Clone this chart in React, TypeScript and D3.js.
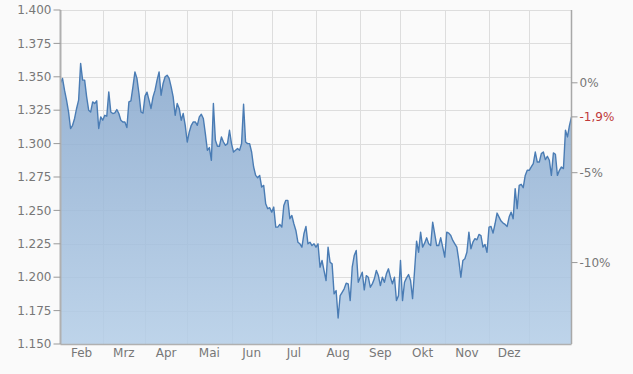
import React from 'react';
import * as d3 from 'd3';

// daily closing prices, one per trading day (Feb .. end of Jan)
const prices: number[] = [
  1.3455, 1.3488, 1.3400, 1.3325, 1.3237, 1.3113, 1.3137, 1.3188, 1.3263, 1.3325,
  1.3600, 1.3475, 1.3475, 1.3350, 1.3250, 1.3237, 1.3312, 1.3300, 1.3320, 1.3113,
  1.3200, 1.3175, 1.3212, 1.3205, 1.3387, 1.3237, 1.3225, 1.3230, 1.3255, 1.3225,
  1.3175, 1.3162, 1.3162, 1.3120, 1.3312, 1.3320, 1.3425, 1.3537, 1.3488, 1.3375,
  1.3237, 1.3228,
  1.3355, 1.3385, 1.3325, 1.3263, 1.3350, 1.3400, 1.3475, 1.3537, 1.3362, 1.3450,
  1.3500, 1.3512, 1.3488, 1.3425, 1.3350, 1.3212, 1.3300, 1.3263, 1.3175, 1.3225,
  1.3137, 1.3012, 1.3087, 1.3137, 1.3162, 1.3162, 1.3137, 1.3200, 1.3220, 1.3188,
  1.3075, 1.2950, 1.2970, 1.2875, 1.3300, 1.3025, 1.2980, 1.2980, 1.3050, 1.3012,
  1.2987, 1.3000, 1.3100, 1.3000,
  1.2937, 1.2950, 1.2963, 1.2950, 1.3000, 1.3295, 1.3012, 1.3000, 1.3000, 1.2937,
  1.2825, 1.2762, 1.2745, 1.2762, 1.2675, 1.2687, 1.2550, 1.2513, 1.2520, 1.2487,
  1.2525, 1.2375, 1.2375, 1.2395, 1.2375, 1.2537, 1.2575, 1.2575, 1.2438, 1.2462,
  1.2400, 1.2350, 1.2262, 1.2250, 1.2225, 1.2325, 1.2380, 1.2250, 1.2262, 1.2237,
  1.2250, 1.2225, 1.2250,
  1.2075, 1.2125, 1.2050, 1.1975, 1.2225, 1.2112, 1.2100, 1.1875, 1.1900, 1.1695,
  1.1862, 1.1887, 1.1913, 1.1955, 1.1950, 1.1825, 1.2075, 1.2162, 1.2200, 1.1962,
  1.2000, 1.2037, 1.1905, 1.2012, 1.2000, 1.1925, 1.1950, 1.1988, 1.2050, 1.2012,
  1.1937, 1.2000, 1.1962, 1.2025, 1.2063, 1.2000, 1.1950, 1.2000, 1.1825, 1.1862,
  1.2125, 1.1825, 1.1962, 1.1995, 1.2020, 1.1975, 1.1840, 1.2050, 1.2270, 1.2187,
  1.2337, 1.2225, 1.2255, 1.2295, 1.2250, 1.2237, 1.2412, 1.2325, 1.2237, 1.2237,
  1.2295, 1.2225, 1.2150, 1.2337, 1.2330, 1.2312, 1.2275, 1.2250, 1.2225, 1.2125,
  1.2000, 1.2125, 1.2138, 1.2187, 1.2337, 1.2213, 1.2262, 1.2288, 1.2280, 1.2320,
  1.2312, 1.2225, 1.2245,
  1.2187, 1.2375, 1.2380, 1.2330, 1.2400, 1.2480, 1.2450, 1.2420, 1.2405, 1.2395,
  1.2380, 1.2450, 1.2487, 1.2438, 1.2663, 1.2513, 1.2687, 1.2695, 1.2670, 1.2762,
  1.2800, 1.2800, 1.2825, 1.2850, 1.2937, 1.2862, 1.2862, 1.2925, 1.2937, 1.2880,
  1.2905, 1.2875, 1.2762, 1.2930, 1.2920, 1.2762, 1.2800, 1.2825, 1.2813, 1.3100,
  1.3050, 1.3137, 1.3200,
];

// index of the first trading day of each month
const monthStarts = [0, 21, 42, 63, 85, 105, 127, 149, 169, 191, 213, 233];
const monthLabels = ['Feb', 'Mrz', 'Apr', 'Mai', 'Jun', 'Jul', 'Aug', 'Sep', 'Okt', 'Nov', 'Dez'];

const priceTicks = [1.15, 1.175, 1.2, 1.225, 1.25, 1.275, 1.3, 1.325, 1.35, 1.375, 1.4];
const pctTicks = [0, -5, -10];

const W = 633;
const H = 374;
const margin = { top: 10, right: 61.5, bottom: 30, left: 60.5 };

const App = () => {
  const x = d3.scaleLinear()
    .domain([0, prices.length - 1])
    .range([margin.left, W - margin.right]);
  const y = d3.scaleLinear()
    .domain([1.15, 1.4])
    .range([H - margin.bottom, margin.top]);

  const base = prices[0];
  const last = prices[prices.length - 1];
  const lastPct = (last / base - 1) * 100;

  const area = d3.area<number>()
    .x((_, i) => x(i))
    .y0(y(1.15))
    .y1(d => y(d));
  const line = d3.line<number>()
    .x((_, i) => x(i))
    .y(d => y(d));

  const x0 = margin.left;
  const x1 = W - margin.right;
  const yTop = margin.top;
  const yBot = H - margin.bottom;
  const font = 'DejaVu Sans, Verdana, sans-serif';

  const gridX = monthStarts.slice(1);

  return (
    <svg width={W} height={H} style={{ position: 'absolute', left: 0, top: 0, display: 'block' }}>
      <defs>
        <linearGradient id="fillGrad" gradientUnits="userSpaceOnUse" x1={0} y1={yTop} x2={0} y2={yBot}>
          <stop offset="0%" stopColor="#7d9fc7" />
          <stop offset="100%" stopColor="#b3cde7" />
        </linearGradient>
      </defs>
      <rect x={0} y={0} width={W} height={H} fill="#fafafa" />

      {/* grid */}
      {priceTicks.map(t => (
        <line key={'gy' + t} x1={x0} x2={x1} y1={Math.round(y(t)) + 0.5} y2={Math.round(y(t)) + 0.5}
          stroke="#dddddd" strokeWidth={1} />
      ))}
      {gridX.map(m => (
        <line key={'gx' + m} x1={Math.round(x(m)) + 0.5} x2={Math.round(x(m)) + 0.5} y1={yTop} y2={yBot}
          stroke="#dddddd" strokeWidth={1} />
      ))}

      {/* area + line */}
      <path d={area(prices) || ''} fill="url(#fillGrad)" fillOpacity={0.85} />
      <path d={line(prices) || ''} fill="none" stroke="#4a7cb4" strokeWidth={1.4} strokeLinejoin="round" />

      {/* axes */}
      <line x1={x0} x2={x0} y1={yTop} y2={yBot} stroke="#b0b0b0" strokeWidth={2} />
      <line x1={x0} x2={x1} y1={yBot + 0.5} y2={yBot + 0.5} stroke="#b0b0b0" strokeWidth={1.5} />
      <line x1={x1} x2={x1} y1={yTop} y2={yBot} stroke="#a8a8a8" strokeWidth={1.5} />

      {/* left axis */}
      {priceTicks.map(t => (
        <g key={'ly' + t}>
          <line x1={x0 - 7} x2={x0} y1={y(t)} y2={y(t)} stroke="#999" strokeWidth={1} />
          <text x={x0 - 9} y={y(t)} dy="0.35em" textAnchor="end" fontFamily={font} fontSize={12} fill="#777">
            {d3.format('.3f')(t)}
          </text>
        </g>
      ))}

      {/* right axis, percent change */}
      {pctTicks.map(p => {
        const yy = y(base * (1 + p / 100));
        return (
          <g key={'ry' + p}>
            <line x1={x1} x2={x1 + 6} y1={yy} y2={yy} stroke="#999" strokeWidth={1} />
            <text x={x1 + 8} y={yy} dy="0.35em" fontFamily={font} fontSize={12} fill="#777">
              {p + '%'}
            </text>
          </g>
        );
      })}
      <g>
        <line x1={x1} x2={x1 + 6} y1={y(last)} y2={y(last)} stroke="#999" strokeWidth={1} />
        <text x={x1 + 8} y={y(last)} dy="0.35em" fontFamily={font} fontSize={12} fill="#c0393b">
          {lastPct.toFixed(1).replace('.', ',') + '%'}
        </text>
      </g>

      {/* month labels */}
      {monthLabels.map((m, i) => (
        <text key={m} x={(x(monthStarts[i]) + x(monthStarts[i + 1])) / 2} y={yBot + 13} textAnchor="middle"
          fontFamily={font} fontSize={12} fill="#777">
          {m}
        </text>
      ))}
    </svg>
  );
};

export default App;
